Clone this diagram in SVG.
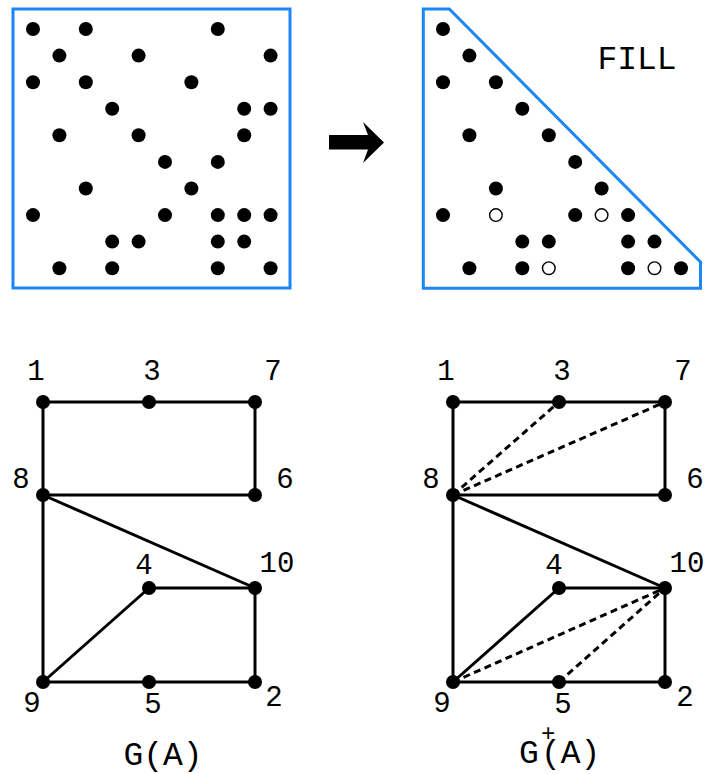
<svg xmlns="http://www.w3.org/2000/svg" width="704" height="774" viewBox="0 0 704 774">
<style>
.frame{fill:none;stroke:#1b86f4;stroke-width:3}
.d{fill:#000}
.o{fill:#fff;stroke:#000;stroke-width:1.4}
.e{stroke:#000;stroke-width:3;fill:none}
.f{stroke:#000;stroke-width:3;fill:none;stroke-dasharray:7 4.5}
.n{fill:#000}
text{font-family:"Liberation Mono","Courier New",monospace;fill:#000}
.lb{font-size:29px;text-anchor:middle}
.cap{font-size:33px;text-anchor:middle}
</style>
<defs>
<circle id="dot" r="7" class="d"/>
<circle id="odot" r="6.3" class="o"/>
</defs>
<g id="matrixA">
<rect class="frame" x="13" y="9" width="277" height="279"/>
<use href="#dot" x="33" y="29"/><use href="#dot" x="85.8" y="29"/><use href="#dot" x="217.8" y="29"/>
<use href="#dot" x="59.4" y="55.6"/><use href="#dot" x="138.6" y="55.6"/><use href="#dot" x="270.6" y="55.6"/>
<use href="#dot" x="33" y="82.2"/><use href="#dot" x="85.8" y="82.2"/><use href="#dot" x="191.4" y="82.2"/>
<use href="#dot" x="112.2" y="108.7"/><use href="#dot" x="244.2" y="108.7"/><use href="#dot" x="270.6" y="108.7"/>
<use href="#dot" x="59.4" y="135.3"/><use href="#dot" x="138.6" y="135.3"/><use href="#dot" x="244.2" y="135.3"/>
<use href="#dot" x="165" y="161.9"/><use href="#dot" x="217.8" y="161.9"/>
<use href="#dot" x="85.8" y="188.5"/><use href="#dot" x="191.4" y="188.5"/>
<use href="#dot" x="33" y="215.1"/><use href="#dot" x="165" y="215.1"/><use href="#dot" x="217.8" y="215.1"/><use href="#dot" x="244.2" y="215.1"/><use href="#dot" x="270.6" y="215.1"/>
<use href="#dot" x="112.2" y="241.6"/><use href="#dot" x="138.6" y="241.6"/><use href="#dot" x="217.8" y="241.6"/><use href="#dot" x="244.2" y="241.6"/>
<use href="#dot" x="59.4" y="268.2"/><use href="#dot" x="112.2" y="268.2"/><use href="#dot" x="217.8" y="268.2"/><use href="#dot" x="270.6" y="268.2"/>
</g>
<g id="arrow">
<polygon points="329,135 368,135 363,122 384,142.5 363,163 368,149.5 329,149.5" fill="#000"/>
</g>
<g id="matrixFill">
<polygon class="frame" points="423.3,9 449.3,9 700.5,262 700.5,288.3 423.3,288.3"/>
<text x="637" y="69" style="font-size:33px;text-anchor:middle">FILL</text>
<use href="#dot" x="443" y="29"/>
<use href="#dot" x="469.4" y="55.6"/>
<use href="#dot" x="443" y="82.2"/><use href="#dot" x="495.9" y="82.2"/>
<use href="#dot" x="522.3" y="108.7"/>
<use href="#dot" x="469.4" y="135.3"/><use href="#dot" x="548.8" y="135.3"/>
<use href="#dot" x="575.2" y="161.9"/>
<use href="#dot" x="495.9" y="188.5"/><use href="#dot" x="601.6" y="188.5"/>
<use href="#dot" x="443" y="215.1"/><use href="#odot" x="495.9" y="215.1"/><use href="#dot" x="575.2" y="215.1"/><use href="#odot" x="601.6" y="215.1"/><use href="#dot" x="628.1" y="215.1"/>
<use href="#dot" x="522.3" y="241.6"/><use href="#dot" x="548.8" y="241.6"/><use href="#dot" x="628.1" y="241.6"/><use href="#dot" x="654.5" y="241.6"/>
<use href="#dot" x="469.4" y="268.2"/><use href="#dot" x="522.3" y="268.2"/><use href="#odot" x="548.8" y="268.2"/><use href="#dot" x="628.1" y="268.2"/><use href="#odot" x="654.5" y="268.2"/><use href="#dot" x="681" y="268.2"/>
</g>
<g id="connectors">
<line class="e" x1="43" y1="402" x2="255" y2="402"/>
<line class="e" x1="43" y1="402" x2="43" y2="682"/>
<line class="e" x1="255" y1="402" x2="255" y2="495"/>
<line class="e" x1="43" y1="495" x2="255" y2="495"/>
<line class="e" x1="43" y1="495" x2="255" y2="588"/>
<line class="e" x1="149" y1="588" x2="255" y2="588"/>
<line class="e" x1="255" y1="588" x2="255" y2="682"/>
<line class="e" x1="43" y1="682" x2="149" y2="588"/>
<line class="e" x1="43" y1="682" x2="255" y2="682"/>
<line class="e" x1="453" y1="402" x2="665" y2="402"/>
<line class="e" x1="453" y1="402" x2="453" y2="682"/>
<line class="e" x1="665" y1="402" x2="665" y2="495"/>
<line class="e" x1="453" y1="495" x2="665" y2="495"/>
<line class="e" x1="453" y1="495" x2="665" y2="588"/>
<line class="e" x1="559" y1="588" x2="665" y2="588"/>
<line class="e" x1="665" y1="588" x2="665" y2="682"/>
<line class="e" x1="453" y1="682" x2="559" y2="588"/>
<line class="e" x1="453" y1="682" x2="665" y2="682"/>
<line class="f" x1="453" y1="495" x2="559" y2="402"/>
<line class="f" x1="453" y1="495" x2="665" y2="402"/>
<line class="f" x1="453" y1="682" x2="665" y2="588"/>
<line class="f" x1="559" y1="682" x2="665" y2="588"/>
</g>
<g id="L1"><circle class="n" cx="43" cy="402" r="7"/><text class="lb" x="36" y="380">1</text></g>
<g id="L3"><circle class="n" cx="149" cy="402" r="7"/><text class="lb" x="152" y="380">3</text></g>
<g id="L7"><circle class="n" cx="255" cy="402" r="7"/><text class="lb" x="273" y="380">7</text></g>
<g id="L8"><circle class="n" cx="43" cy="495" r="7"/><text class="lb" x="21" y="488">8</text></g>
<g id="L6"><circle class="n" cx="255" cy="495" r="7"/><text class="lb" x="285" y="488">6</text></g>
<g id="L10"><circle class="n" cx="255" cy="588" r="7"/><text class="lb" x="277" y="572">10</text></g>
<g id="L4"><circle class="n" cx="149" cy="588" r="7"/><text class="lb" x="144" y="574">4</text></g>
<g id="L9"><circle class="n" cx="43" cy="682" r="7"/><text class="lb" x="32" y="712">9</text></g>
<g id="L5"><circle class="n" cx="149" cy="682" r="7"/><text class="lb" x="153" y="713">5</text></g>
<g id="L2"><circle class="n" cx="255" cy="682" r="7"/><text class="lb" x="274" y="706">2</text></g>
<text class="cap" x="163" y="765">G(A)</text>
<g id="R1"><circle class="n" cx="453" cy="402" r="7"/><text class="lb" x="446" y="380">1</text></g>
<g id="R3"><circle class="n" cx="559" cy="402" r="7"/><text class="lb" x="562" y="380">3</text></g>
<g id="R7"><circle class="n" cx="665" cy="402" r="7"/><text class="lb" x="683" y="380">7</text></g>
<g id="R8"><circle class="n" cx="453" cy="495" r="7"/><text class="lb" x="431" y="488">8</text></g>
<g id="R6"><circle class="n" cx="665" cy="495" r="7"/><text class="lb" x="695" y="488">6</text></g>
<g id="R10"><circle class="n" cx="665" cy="588" r="7"/><text class="lb" x="687" y="572">10</text></g>
<g id="R4"><circle class="n" cx="559" cy="588" r="7"/><text class="lb" x="554" y="574">4</text></g>
<g id="R9"><circle class="n" cx="453" cy="682" r="7"/><text class="lb" x="442" y="712">9</text></g>
<g id="R5"><circle class="n" cx="559" cy="682" r="7"/><text class="lb" x="563" y="713">5</text></g>
<g id="R2"><circle class="n" cx="665" cy="682" r="7"/><text class="lb" x="685" y="706">2</text></g>
<text style="font-size:33px"><tspan x="519" y="763">G</tspan><tspan x="541" y="741" style="font-size:24px">+</tspan><tspan x="541" y="763">(A)</tspan></text>
</svg>
